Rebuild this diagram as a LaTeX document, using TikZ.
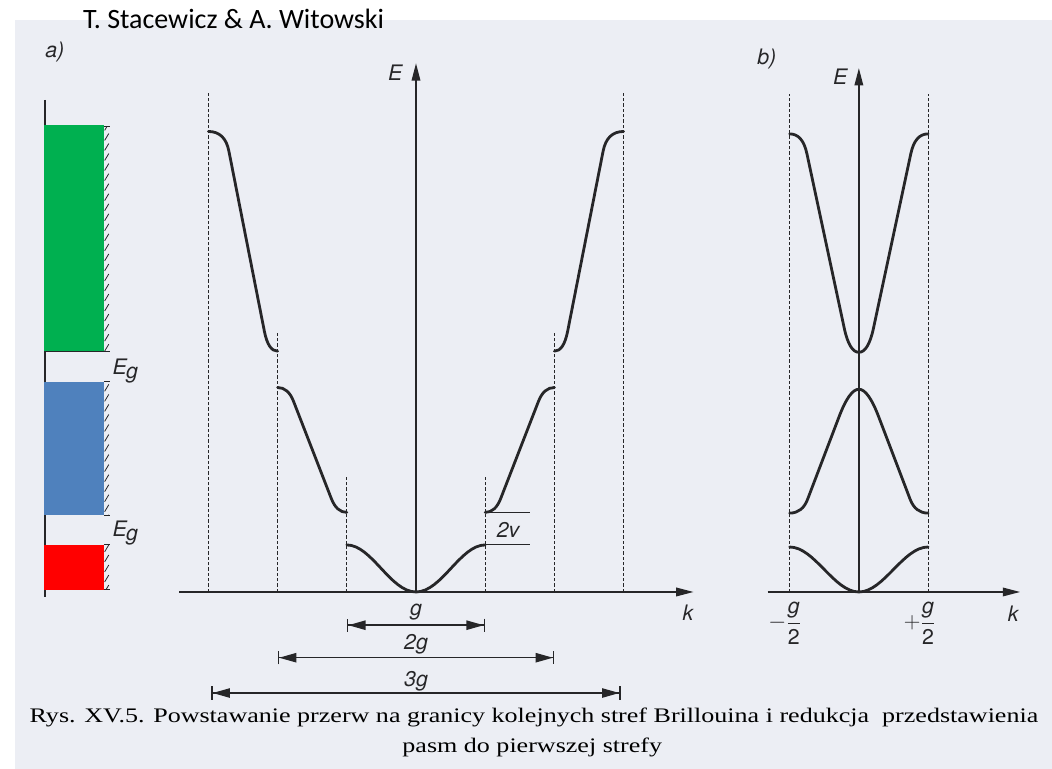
\documentclass[tikz,border=0pt]{standalone}
\usepackage{fontspec}
\usepackage{graphicx}
\setmainfont{Liberation Serif}
\setsansfont{TeX Gyre Heros}
\newfontfamily\slidefont{Carlito}
\usetikzlibrary{arrows.meta}

\definecolor{scan}{RGB}{236,238,244}
\definecolor{ink}{RGB}{38,38,40}
\definecolor{bandgreen}{RGB}{0,176,80}
\definecolor{bandblue}{RGB}{79,129,189}
\definecolor{bandred}{RGB}{255,0,0}

\tikzset{
  axis/.style={ink,line width=1pt,-{Triangle[length=13pt,width=6.5pt]}},
  band/.style={ink,line width=2.1pt,line cap=round},
  zone/.style={ink,line width=0.65pt,dash pattern=on 2.5pt off 1.5pt},
  dimline/.style={ink,line width=1.1pt,
    {Bar[width=10pt]Triangle[length=13pt,width=7pt]}-{Triangle[length=13pt,width=7pt]Bar[width=10pt]}},
  lab/.style={ink,font=\sffamily\itshape\fontsize{16}{18}\selectfont}
}

\begin{document}
\begin{tikzpicture}[x=1.8241cm,y=1.8241cm]
  \useasboundingbox (-6.012,-2.558) rectangle (9.191,8.555);
  \fill[white] (-6.012,-2.558) rectangle (9.191,8.555);
  \fill[scan] (-5.795,-2.558) rectangle (9.191,8.266);

  \node[anchor=base west,font=\slidefont\fontsize{21}{25}\selectfont] (authors) at (-4.88,8.136) {T. Stacewicz \& A. Witowski};

  % a) energy bands
  \node[lab] (a) at (-5.22,7.80) {a)};
  \draw[ink,line width=1pt] (-5.36,7.11) -- (-5.36,-0.07);
  \fill[bandgreen] (-5.37,3.48) rectangle (-4.51,6.75);
  \fill[bandblue] (-5.37,1.11) rectangle (-4.51,3.035);
  \fill[bandred] (-5.37,0.03) rectangle (-4.51,0.68);
  \begin{scope}
    \clip (-4.51,3.48) rectangle (-4.42,6.73)
          (-4.51,1.11) rectangle (-4.42,3.04)
          (-4.51,0.03) rectangle (-4.42,0.68);
    \foreach \y in {0,0.145,...,7}
      \draw[ink,line width=0.6pt] (-4.50,\y) -- (-4.44,\y+0.1);
  \end{scope}
  \foreach \h in {6.73,3.04,1.11,0.68,0.03}
    \draw[ink,line width=0.8pt] (-4.51,\h) -- (-4.42,\h);
  \draw[ink,line width=0.8pt] (-5.36,3.48) -- (-4.42,3.48);
  \node[lab] (Eg1) at (-4.20,3.19) {E\kern-0.5pt\raisebox{-0.35ex}{g}};
  \node[lab] (Eg2) at (-4.20,0.85) {E\kern-0.5pt\raisebox{-0.35ex}{g}};

  % extended zone scheme
  \draw[axis] (-3.42,0) -- (4.01,0);
  \draw[axis] (0,0) -- (0,7.64);
  \node[lab] (E1) at (-0.30,7.51) {E};
  \node[lab] (k1) at (3.93,-0.30) {k};
  \foreach \x/\h in {1/1.66,2/3.77,3/7.24} {
    \draw[zone] (-\x,0) -- (-\x,\h);
    \draw[zone] (\x,0) -- (\x,\h);
  }
  \draw[band] (-1,0.68) .. controls (-0.64,0.68) and (-0.37,0) .. (0,0)
              .. controls (0.37,0) and (0.64,0.68) .. (1,0.68);
  \draw[band] (-2,2.955) .. controls (-1.898,2.955) and (-1.821,2.888) .. (-1.769,2.753)
              -- (-1.225,1.353) .. controls (-1.173,1.218) and (-1.098,1.15) .. (-1,1.15);
  \draw[band] (1,1.15) .. controls (1.098,1.15) and (1.173,1.218) .. (1.225,1.353)
              -- (1.769,2.753) .. controls (1.821,2.888) and (1.898,2.955) .. (2,2.955);
  \draw[band] (-3,6.655) .. controls (-2.84,6.655) and (-2.741,6.56) .. (-2.704,6.371)
              -- (-2.191,3.766) .. controls (-2.153,3.575) and (-2.089,3.48) .. (-2,3.48);
  \draw[band] (2,3.48) .. controls (2.089,3.48) and (2.153,3.575) .. (2.191,3.766)
              -- (2.704,6.371) .. controls (2.741,6.56) and (2.84,6.655) .. (3,6.655);
  \draw[ink,line width=0.8pt] (1,1.15) -- (1.65,1.15);
  \draw[ink,line width=0.8pt] (1,0.68) -- (1.65,0.68);
  \node[lab] (gap) at (1.33,0.90) {2v};

  \coordinate (g1l) at (-1,-0.48);
  \coordinate (g1r) at (1,-0.48);
  \coordinate (g2l) at (-2,-0.95);
  \coordinate (g2r) at (2,-0.95);
  \coordinate (g3l) at (-2.96,-1.46);
  \coordinate (g3r) at (2.96,-1.46);
  \draw[dimline] (g1l) -- (g1r);
  \draw[dimline] (g2l) -- (g2r);
  \draw[dimline] (g3l) -- (g3r);
  \node[lab] (g1) at (0,-0.29) {g};
  \node[lab] (g2) at (0,-0.75) {2g};
  \node[lab] (g3) at (0,-1.29) {3g};

  % b) reduced zone
  \begin{scope}[shift={(6.40,0)}]
    \node[lab] (b) at (-1.33,7.70) {b)};
    \draw[axis] (-1.32,0) -- (2.33,0);
    \draw[axis] (0,0) -- (0,7.57);
    \node[lab] (E2) at (-0.27,7.45) {E};
    \node[lab] (k2) at (2.23,-0.32) {k};
    \draw[zone] (-1,0) -- (-1,7.20);
    \draw[zone] (1,0) -- (1,7.20);
    \draw[band] (-1,0.65) .. controls (-0.64,0.65) and (-0.36,0) .. (0,0)
                .. controls (0.36,0) and (0.64,0.65) .. (1,0.65);
    \draw[band] (-1,1.14) .. controls (-0.877,1.14) and (-0.791,1.207) .. (-0.740,1.342)
                -- (-0.289,2.525) .. controls (-0.187,2.795) and (-0.091,2.93) .. (0,2.93)
                .. controls (0.091,2.93) and (0.187,2.795) .. (0.289,2.525)
                -- (0.740,1.342) .. controls (0.791,1.207) and (0.877,1.14) .. (1,1.14);
    \draw[band] (-1,6.62) .. controls (-0.875,6.62) and (-0.792,6.525) .. (-0.751,6.335)
                -- (-0.212,3.816) .. controls (-0.162,3.581) and (-0.091,3.464) .. (0,3.464)
                .. controls (0.091,3.464) and (0.162,3.581) .. (0.212,3.816)
                -- (0.751,6.335) .. controls (0.792,6.525) and (0.875,6.62) .. (1,6.62);
    \node[lab] (mg) at (-1.07,-0.45) {$-\displaystyle\frac{\mbox{g}}{\mbox{\upshape 2}}$};
    \node[lab] (pg) at (0.88,-0.45) {$+\displaystyle\frac{\mbox{g}}{\mbox{\upshape 2}}$};
  \end{scope}

  % caption
  \node[font=\fontsize{15.5}{18}\selectfont] (rys1) at (1.705,-1.82)
    {\scalebox{1.26}[1]{Rys. XV.5. Powstawanie przerw na granicy kolejnych stref Brillouina i redukcja\hspace{0.5em}przedstawienia}};
  \node[font=\fontsize{15.5}{18}\selectfont] (rys2) at (1.68,-2.24)
    {\scalebox{1.26}[1]{pasm do pierwszej strefy}};
\end{tikzpicture}
\end{document}
